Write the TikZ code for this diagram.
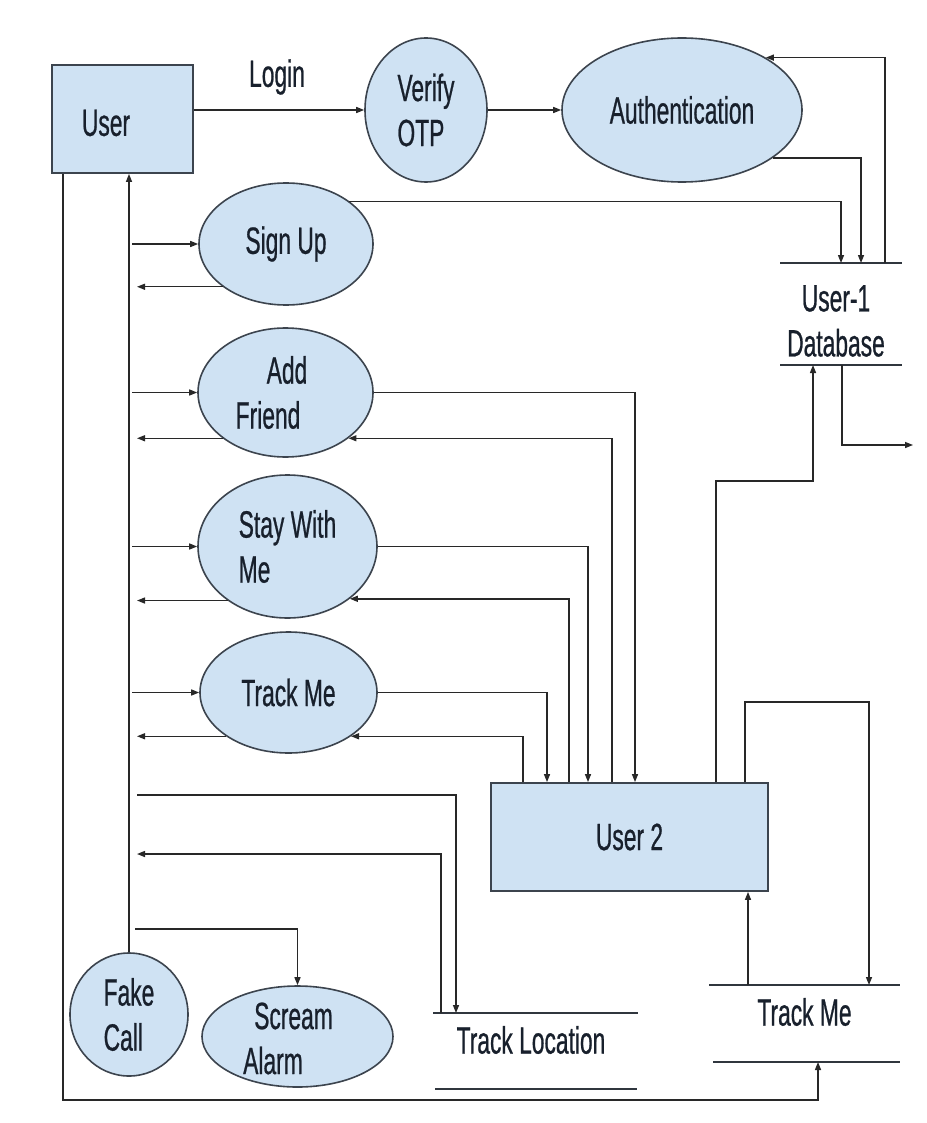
\documentclass[tikz,border=0pt]{standalone}
\usepackage{fontspec}
\setmainfont{Liberation Sans}[FakeStretch=0.6,FakeBold=0.6]
\usetikzlibrary{arrows.meta,shapes.geometric}
\definecolor{fillc}{RGB}{207,226,243}
\definecolor{edgec}{RGB}{60,68,78}
\definecolor{linec}{RGB}{40,40,40}
\definecolor{textc}{RGB}{24,32,44}
\begin{document}
\begin{tikzpicture}[x=1pt,y=-1pt,
  txt/.style={text=textc,font=\fontsize{38}{45}\selectfont,inner sep=0pt},
  proc/.style={ellipse,draw=edgec,line width=1.6pt,fill=fillc,inner sep=0pt,txt},
  ent/.style={rectangle,draw=edgec,line width=1.8pt,fill=fillc,inner sep=0pt,txt},
  store/.style={rectangle,inner sep=0pt,outer sep=0pt,txt},
  sline/.style={draw=edgec!80!black,line width=2pt},
  conn/.style={draw=linec,line width=1.4pt},
  arr/.style={conn,-{Triangle[length=8pt,width=6pt]}},
]
\fill[white] (0,0) rectangle (926,1123);
\useasboundingbox (0,0) rectangle (926,1123);

% ---- entities and processes
\node[ent,minimum width=141pt,minimum height=108pt,
  label={[txt,xshift=-16.5pt,yshift=-4pt]center:User}] (user) at (122.5,119) {};
\node[txt] (login) at (277,77) {Login};
\node[proc,minimum width=122pt,minimum height=144pt,align=left] (vo) at (426,110) {Verify\\OTP};
\node[proc,minimum width=240pt,minimum height=144pt] (auth) at (682,110) {Authentication};
\node[proc,minimum width=174pt,minimum height=122pt] (su) at (286,244) {Sign Up};
\node[proc,minimum width=175pt,minimum height=129pt,
  label={[txt,align=left,xshift=-14pt]center:{\hspace*{31pt}Add\\Friend}}] (af) at (285.5,392.5) {};
\node[proc,minimum width=179pt,minimum height=143pt,align=left] (sw) at (287.5,546.5) {Stay With\\Me};
\node[proc,minimum width=177pt,minimum height=121pt] (tm) at (288.5,692.5) {Track Me};
\node[ent,minimum width=277pt,minimum height=108pt] (u2) at (629.5,837) {User 2};
\node[proc,minimum width=118pt,minimum height=123pt,align=left] (fc) at (129,1014.5) {Fake\\Call};
\node[proc,minimum width=191pt,minimum height=101pt,
  label={[txt,align=left,xshift=-9.5pt,yshift=-2pt]center:{\hspace*{11pt}Scream\\Alarm}}] (sa) at (297.5,1036.5) {};

% ---- data stores
\node[store,minimum width=122pt,minimum height=102pt,
  label={[txt,align=center,xshift=-5pt,yshift=-7pt]center:{User-1\\Database}}] (db) at (841,314) {};
\draw[sline] (db.north west) -- (db.north east);
\draw[sline] (db.south west) -- (db.south east);
\node[store,minimum width=191pt,minimum height=77pt,
  label={[txt,yshift=11.5pt]center:{Track Me}}] (tms) at (804.5,1023.5) {};
\draw[sline] (tms.north west) -- (tms.north east);
\draw[sline] ([xshift=4pt]tms.south west) -- (tms.south east);
\node[store,minimum width=205pt,minimum height=76pt,
  label={[txt,xshift=-4.5pt,yshift=11pt]center:{Track Location}}] (tl) at (535.5,1051) {};
\draw[sline] (tl.north west) -- (tl.north east);
\draw[sline] ([xshift=2pt]tl.south west) -- ([xshift=-1pt]tl.south east);

% ---- helper coordinates
\coordinate (inx) at (132,0);
\coordinate (outx) at (137,0);
\coordinate (busL) at (63,0);
\coordinate (cA) at (523,0);
\coordinate (cB) at (547,0);
\coordinate (cC) at (569,0);
\coordinate (cD) at (588,0);
\coordinate (cE) at (612,0);
\coordinate (cF) at (635,0);
\coordinate (cS) at (841,0);
\coordinate (cAu) at (861,0);
\coordinate (cBk) at (885,0);
\coordinate (cU) at (716,0);
\coordinate (bendR) at (813,481);
\coordinate (cDBo) at (842,0);
\coordinate (dbout) at (913,445);
\coordinate (cG) at (745,0);
\coordinate (bendT) at (869,702);
\coordinate (cH) at (748,0);
\coordinate (bendB) at (818,1100);
\coordinate (tlin) at (137,795);
\coordinate (cTLa) at (456,0);
\coordinate (tlout) at (137,854);
\coordinate (cTLb) at (441,0);
\coordinate (scr) at (135,929);

% ---- connectors
\draw[arr] (user.east |- vo) -- (vo.west);
\draw[arr] (vo.east) -- (auth.west);
\draw[arr] (db.north -| cBk) |- (auth.32);
\draw[arr] (auth.-28) -| (db.north -| cAu);
\draw[arr] (su.34) -| (db.north -| cS);

\draw[arr] (inx |- su.west) -- (su.west);
\draw[arr] (su.214) -- (outx |- su.214);
\draw[arr] (inx |- af.west) -- (af.west);
\draw[arr] (af.216) -- (outx |- af.216);
\draw[arr] (inx |- sw.west) -- (sw.west);
\draw[arr] (sw.222) -- (outx |- sw.222);
\draw[arr] (inx |- tm.west) -- (tm.west);
\draw[arr] (tm.215) -- (outx |- tm.215);

\draw[arr] (af.east) -| (u2.north -| cF);
\draw[arr] (u2.north -| cE) |- (af.324);
\draw[arr] (sw.east) -| (u2.north -| cD);
\draw[arr] (u2.north -| cC) |- (sw.320);
\draw[arr] (tm.east) -| (u2.north -| cB);
\draw[arr] (u2.north -| cA) |- (tm.325);

\draw[arr] (fc.north) -- (fc.north |- user.south);
\draw[arr] (user.south -| busL) |- (bendB) -- (tms.south -| bendB);
\draw[arr] (tlin) -| (tl.north -| cTLa);
\draw[arr] (tl.north -| cTLb) |- (tlout);
\draw[arr] (scr) -| (sa.north);

\draw[arr] (u2.north -| cU) |- (bendR) -- (db.south -| bendR);
\draw[arr] (db.south -| cDBo) |- (dbout);
\draw[arr] (u2.north -| cG) |- (bendT) -- (tms.north -| bendT);
\draw[arr] (tms.north -| cH) -- (u2.south -| cH);
\end{tikzpicture}
\end{document}
